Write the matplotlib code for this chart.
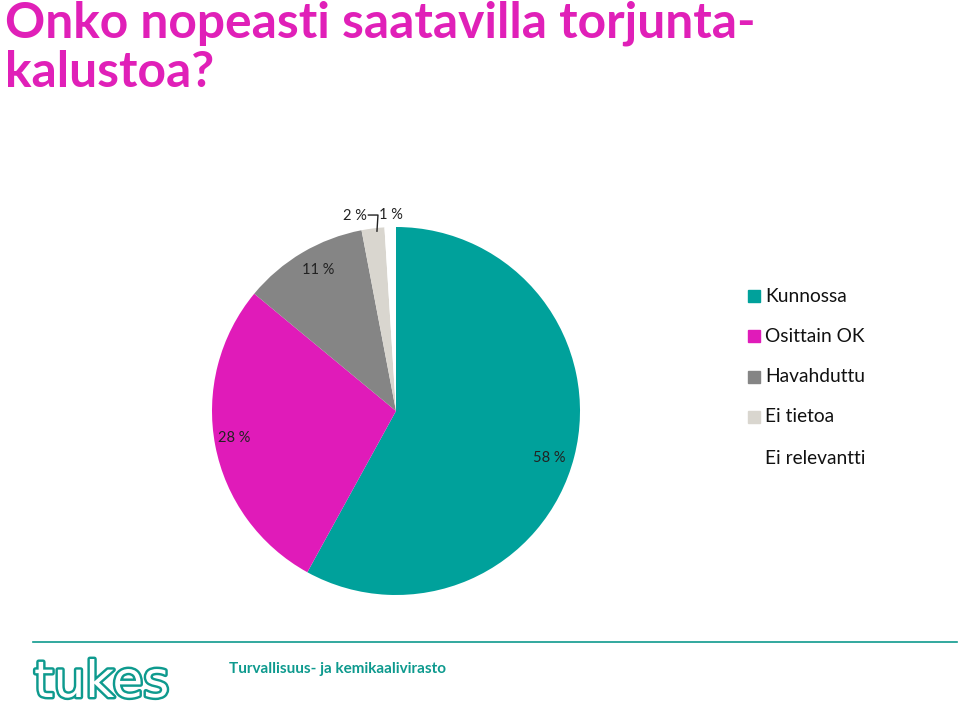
import matplotlib
matplotlib.use("Agg")
import matplotlib.pyplot as plt
import matplotlib.patheffects as pe
import numpy as np

categories = ["Kunnossa", "Osittain OK", "Havahduttu", "Ei tietoa", "Ei relevantti"]
values = [58, 28, 11, 2, 1]
value_labels = ["58 %", "28 %", "11 %", "2 %", "1 %"]
colors = ["#00A19B", "#E01BB9", "#858585", "#D9D6CF", "#FFFFFF"]

TITLE = "Onko nopeasti saatavilla torjunta-\nkalustoa?"
FOOTER = "Turvallisuus- ja kemikaalivirasto"
TEAL = "#0E9A8E"

plt.rcParams['font.family'] = ['Lato', 'DejaVu Sans']

fig = plt.figure(figsize=(9.6, 7.07), dpi=100)
W, H = 960, 707

for line, base in zip(TITLE.split("\n"), [37, 87]):
    fig.text(5 / W, (H - base) / H, line, ha="left", va="baseline",
             fontsize=35.8, fontweight="bold", color="#E020B8")

cx, cy, r = 396, 411, 184
ax = fig.add_axes([(cx - r) / W, (H - cy - r) / H, 2 * r / W, 2 * r / H])
wedges, _ = ax.pie(values, colors=colors, startangle=90, counterclock=False,
                   radius=1.0, wedgeprops=dict(linewidth=0))
ax.set_xlim(-1, 1)
ax.set_ylim(-1, 1)
ax.set_aspect("equal")
ax.axis("off")

dists = [0.87, 0.89, 0.875]
shifts = [-2.5, -1.3, -1.5]
for i, w in enumerate(wedges[:3]):
    ang = np.deg2rad((w.theta1 + w.theta2) / 2 + shifts[i])
    d = dists[i]
    ax.text(d * np.cos(ang), d * np.sin(ang), value_labels[i], ha="center",
            va="center", fontsize=10.5, color="#222222")

# small slices: outside labels
ax.text(-0.225, 1.06, value_labels[3], ha="center", va="center",
        fontsize=10.5, color="#222222")
ax.text(-0.03, 1.065, value_labels[4], ha="center", va="center",
        fontsize=10.5, color="#222222")
w = wedges[3]
ang = np.deg2rad((w.theta1 + w.theta2) / 2)
ax.plot([-0.15, -0.098, 0.985 * np.cos(ang) + 0.02],
        [1.065, 1.065, 0.985 * np.sin(ang)], color="#222222", lw=1,
        clip_on=False)

# legend
leg_y = [296, 336, 377, 417, 458]
for c, lab, y in zip(colors, categories, leg_y):
    if c.upper() != "#FFFFFF":
        fig.patches.append(plt.Rectangle(((748) / W, (H - y - 6) / H),
                                         12 / W, 12 / H, color=c,
                                         transform=fig.transFigure))
    fig.text(765 / W, (H - y) / H, lab, ha="left", va="center",
             fontsize=13.8, color="#111111")

# footer
fig.add_artist(plt.Line2D([33 / W, 957 / W], [(H - 642) / H] * 2,
                          color=TEAL, lw=1.2, transform=fig.transFigure))
t = fig.text(34 / W, (H - 697) / H, "tukes", ha="left", va="baseline",
             fontsize=36, color="white", fontweight="normal",
             family="DejaVu Sans")
t.set_path_effects([pe.Stroke(linewidth=3.5, foreground=TEAL), pe.Normal()])
fig.text(229 / W, (H - 669) / H, FOOTER, ha="left", va="center",
         fontsize=11, fontweight="bold", color=TEAL)

fig.savefig("out.png", dpi=100)
